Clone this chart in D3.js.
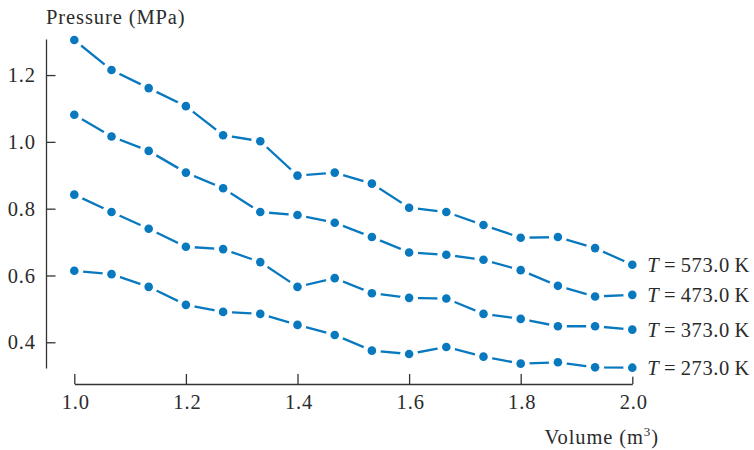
<!DOCTYPE html>
<html>
<head>
<meta charset="utf-8">
<script src="https://cdn.jsdelivr.net/npm/d3@7"></script>
<style>
  html, body { margin: 0; padding: 0; background: #fff; }
  svg { display: block; }
  text { font-family: "Liberation Serif", "Times New Roman", serif; fill: #2b2b2b; }
</style>
</head>
<body>
<svg id="chart" width="754" height="450"></svg>
<script>
// ---- data ----
const volumes = [1.0, 1.0667, 1.1333, 1.2, 1.2667, 1.3333, 1.4, 1.4667, 1.5333, 1.6, 1.6667, 1.7333, 1.8, 1.8667, 1.9333, 2.0];
const temperatures = [573.0, 473.0, 373.0, 273.0];
const p573 = [1.305, 1.215, 1.161, 1.107, 1.020, 1.002, 0.899, 0.908, 0.875, 0.803, 0.790, 0.751, 0.713, 0.715, 0.682, 0.632];
const p473 = [1.081, 1.016, 0.973, 0.908, 0.861, 0.790, 0.781, 0.758, 0.715, 0.669, 0.662, 0.647, 0.616, 0.569, 0.537, 0.542];
const p373 = [0.842, 0.790, 0.740, 0.686, 0.679, 0.640, 0.566, 0.592, 0.547, 0.533, 0.531, 0.485, 0.470, 0.448, 0.448, 0.438];
const p273 = [0.614, 0.604, 0.566, 0.512, 0.491, 0.485, 0.452, 0.422, 0.375, 0.365, 0.386, 0.357, 0.336, 0.340, 0.325, 0.324];
const xTicks = [1.0, 1.2, 1.4, 1.6, 1.8, 2.0];
const yTicks = [0.4, 0.6, 0.8, 1.0, 1.2];
const xTitle = "Volume (m";
const yTitle = "Pressure (MPa)";

const seriesList = [p573, p473, p373, p273];
const color = "#0878bf";
const FS = 20.5;
const LS = "0.9px";

const svg = d3.select("#chart");
const x = d3.scaleLinear().domain([1.0, 2.0]).range([74.3, 632.3]);
const y = d3.scaleLinear().domain([0.323, 1.308]).range([368, 39]);

// axes
const yAxis = d3.axisLeft(y).tickValues(yTicks).tickFormat(d3.format(".1f"))
  .tickSizeInner(-9.5).tickSizeOuter(0).tickPadding(10);
const xAxis = d3.axisBottom(x).tickValues(xTicks).tickFormat(d3.format(".1f"))
  .tickSizeInner(-10).tickSizeOuter(0).tickPadding(10);

const gy = svg.append("g").attr("transform", "translate(46,0)").call(yAxis);
const gx = svg.append("g").attr("transform", "translate(0,384)").call(xAxis);
[gx, gy].forEach(g => {
  g.selectAll("path.domain").attr("stroke", "#333").attr("stroke-width", 1.3);
  g.selectAll(".tick line").attr("stroke", "#333").attr("stroke-width", 1.3);
  g.selectAll(".tick text").attr("font-family", "Liberation Serif").attr("font-size", FS)
    .attr("fill", "#2b2b2b").style("letter-spacing", LS);
});
gx.selectAll(".tick text").attr("dx", "0.05em");

// titles
svg.append("text").attr("x", 46).attr("y", 24).attr("font-size", FS)
  .style("letter-spacing", LS).text(yTitle);
const xt = svg.append("text").attr("x", 659).attr("y", 444).attr("font-size", FS)
  .attr("text-anchor", "end").style("letter-spacing", LS);
xt.append("tspan").text(xTitle);
xt.append("tspan").attr("font-size", 13).attr("dy", -8).text("3");
xt.append("tspan").attr("dy", 8).text(")");

// lines
const line = d3.line().x((d, i) => x(volumes[i])).y(d => y(d));
seriesList.forEach(s => {
  svg.append("path").datum(s).attr("d", line)
    .attr("fill", "none").attr("stroke", color).attr("stroke-width", 2.3);
});
// white halos and markers
seriesList.forEach(s => {
  const g = svg.append("g");
  g.selectAll("circle.halo").data(s).join("circle").attr("class", "halo")
    .attr("cx", (d, i) => x(volumes[i])).attr("cy", d => y(d)).attr("r", 9).attr("fill", "#fff");
  g.selectAll("circle.dot").data(s).join("circle").attr("class", "dot")
    .attr("cx", (d, i) => x(volumes[i])).attr("cy", d => y(d)).attr("r", 4.3).attr("fill", color);
});

// series labels
seriesList.forEach((s, k) => {
  const t = svg.append("text")
    .attr("x", x(volumes[volumes.length - 1]) + 15)
    .attr("y", y(s[s.length - 1]))
    .attr("dy", "0.35em").attr("font-size", FS)
    .style("letter-spacing", "0.6px").style("word-spacing", "-1.1px");
  t.append("tspan").attr("font-style", "italic").text("T");
  t.append("tspan").text(" = " + temperatures[k].toFixed(1) + " K");
});
</script>
</body>
</html>
